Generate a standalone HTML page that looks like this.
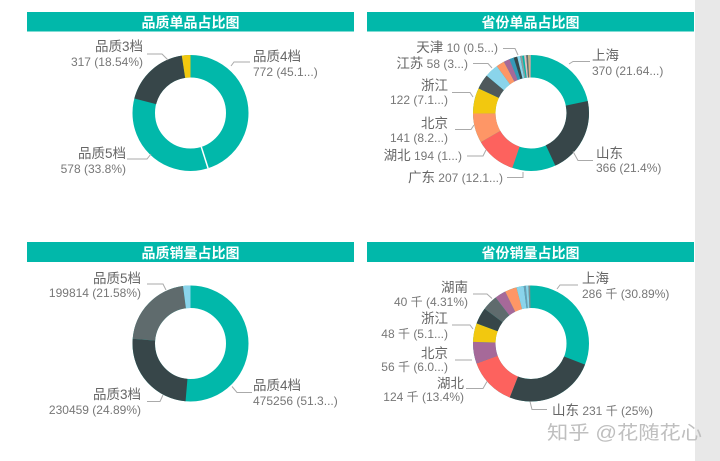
<!DOCTYPE html>
<html>
<head>
<meta charset="utf-8">
<style>
html,body{margin:0;padding:0;background:#fff;}
svg{display:block;}
text{font-family:"Liberation Sans","Noto Sans CJK SC",sans-serif;}
.h{fill:#fff;font-size:14px;font-weight:bold;text-anchor:middle;}
.n{fill:#666;font-size:13.5px;}
.v{fill:#777;font-size:12px;}
.e{text-anchor:end;}
.l{fill:none;stroke:#aaa;stroke-width:1;}
</style>
</head>
<body>
<svg width="720" height="461" viewBox="0 0 720 461" xmlns="http://www.w3.org/2000/svg">
<rect x="0" y="0" width="720" height="461" fill="#fff"/>
<rect x="695" y="0" width="25" height="461" fill="#e8e8e8"/>

<!-- headers -->
<rect x="27" y="12" width="327" height="19.5" fill="#01B8AA"/>
<rect x="367" y="12" width="327" height="19.5" fill="#01B8AA"/>
<rect x="27" y="242" width="327" height="20" fill="#01B8AA"/>
<rect x="367" y="242" width="327" height="20" fill="#01B8AA"/>
<text class="h" x="190.5" y="27.5">品质单品占比图</text>
<text class="h" x="530.5" y="27.5">省份单品占比图</text>
<text class="h" x="190.5" y="258">品质销量占比图</text>
<text class="h" x="530.5" y="258">省份销量占比图</text>

<!-- Chart 1 -->
<g transform="rotate(-90 190.5 113)" fill="none" stroke-width="22.5">
  <circle cx="190.5" cy="113" r="46.75" stroke="#01B8AA"/>
  <circle cx="190.5" cy="113" r="46.75" stroke="#374649" stroke-dasharray="54.46 400" stroke-dashoffset="-231.76"/>
  <circle cx="190.5" cy="113" r="46.75" stroke="#F2C80F" stroke-dasharray="7.6 400" stroke-dashoffset="-286.2"/>
</g>
<line x1="201.26" y1="146.83" x2="208.07" y2="168.27" stroke="#fff" stroke-width="1.5"/>
<polyline class="l" points="147,54 162,54 168,60"/>
<polyline class="l" points="231,66 234,62 250,62"/>
<polyline class="l" points="127,159 147,159 151,154"/>
<text class="n e" x="143" y="51">品质3档</text>
<text class="v e" x="143" y="66">317 (18.54%)</text>
<text class="n" x="253" y="61">品质4档</text>
<text class="v" x="253" y="76">772 (45.1...)</text>
<text class="n e" x="126" y="158">品质5档</text>
<text class="v e" x="126" y="173">578 (33.8%)</text>

<!-- Chart 2 -->
<g transform="rotate(-90 531 113)" fill="none" stroke-width="22.5">
  <circle cx="531" cy="113" r="46.75" stroke="#01B8AA"/>
  <circle cx="531" cy="113" r="46.75" stroke="#374649" stroke-dasharray="62.86 400" stroke-dashoffset="-63.57"/>
  <circle cx="531" cy="113" r="46.75" stroke="#FD625E" stroke-dasharray="33.34 400" stroke-dashoffset="-161.97"/>
  <circle cx="531" cy="113" r="46.75" stroke="#FE9666" stroke-dasharray="24.23 400" stroke-dashoffset="-195.31"/>
  <circle cx="531" cy="113" r="46.75" stroke="#F2C80F" stroke-dasharray="20.94 400" stroke-dashoffset="-219.54"/>
  <circle cx="531" cy="113" r="46.75" stroke="#4E585B" stroke-dasharray="12.13 400" stroke-dashoffset="-240.49"/>
  <circle cx="531" cy="113" r="46.75" stroke="#8AD4EB" stroke-dasharray="11.16 400" stroke-dashoffset="-252.62"/>
  <circle cx="531" cy="113" r="46.75" stroke="#FE9666" stroke-dasharray="6.76 400" stroke-dashoffset="-263.78"/>
  <circle cx="531" cy="113" r="46.75" stroke="#A66999" stroke-dasharray="4.99 400" stroke-dashoffset="-270.53"/>
  <circle cx="531" cy="113" r="46.75" stroke="#3599B8" stroke-dasharray="3.52 400" stroke-dashoffset="-275.53"/>
  <circle cx="531" cy="113" r="46.75" stroke="#374649" stroke-dasharray="2.94 400" stroke-dashoffset="-279.05"/>
  <circle cx="531" cy="113" r="46.75" stroke="#8AD4EB" stroke-dasharray="2.35 400" stroke-dashoffset="-281.99"/>
  <circle cx="531" cy="113" r="46.75" stroke="#8C9A9C" stroke-dasharray="1.76 400" stroke-dashoffset="-284.34"/>
  <circle cx="531" cy="113" r="46.75" stroke="#DFBFBF" stroke-dasharray="1.76 400" stroke-dashoffset="-287.57"/>
  <circle cx="531" cy="113" r="46.75" stroke="#5F6B6D" stroke-dasharray="1.47 400" stroke-dashoffset="-289.33"/>
  <circle cx="531" cy="113" r="46.75" stroke="#D9B382" stroke-dasharray="1.47 400" stroke-dashoffset="-290.80"/>
  <circle cx="531" cy="113" r="46.75" stroke="#9AAAAA" stroke-dasharray="1.47 400" stroke-dashoffset="-292.27"/>
</g>
<polyline class="l" points="503,48.5 515,48.5 518,55"/>
<polyline class="l" points="473,63.5 488,63.5 492,68"/>
<polyline class="l" points="452,92.5 470,92.5 473,97"/>
<polyline class="l" points="455,129.5 471,129.5 474,125"/>
<polyline class="l" points="467,156 483,156 486,150"/>
<polyline class="l" points="507,177.5 523,177.5 523,172"/>
<polyline class="l" points="569,64 573,61.5 590,61.5"/>
<polyline class="l" points="573,151.5 578,160.5 593,160.5"/>
<text class="e" x="498" y="52"><tspan class="n">天津</tspan><tspan class="v"> 10 (0.5...)</tspan></text>
<text class="e" x="468" y="68"><tspan class="n">江苏</tspan><tspan class="v"> 58 (3...)</tspan></text>
<text class="n e" x="448" y="90">浙江</text>
<text class="v e" x="448" y="104">122 (7.1...)</text>
<text class="n e" x="448" y="128">北京</text>
<text class="v e" x="448" y="142">141 (8.2...)</text>
<text class="e" x="462" y="160"><tspan class="n">湖北</tspan><tspan class="v"> 194 (1...)</tspan></text>
<text class="e" x="503" y="182"><tspan class="n">广东</tspan><tspan class="v"> 207 (12.1...)</tspan></text>
<text class="n" x="592" y="60">上海</text>
<text class="v" x="592" y="75">370 (21.64...)</text>
<text class="n" x="596" y="158">山东</text>
<text class="v" x="596" y="172">366 (21.4%)</text>

<!-- Chart 3 -->
<g transform="rotate(-90 190.5 343.5)" fill="none" stroke-width="22.5">
  <circle cx="190.5" cy="343.5" r="46.75" stroke="#01B8AA"/>
  <circle cx="190.5" cy="343.5" r="46.75" stroke="#374649" stroke-dasharray="73.11 400" stroke-dashoffset="-150.69"/>
  <circle cx="190.5" cy="343.5" r="46.75" stroke="#5F6B6D" stroke-dasharray="63.39 400" stroke-dashoffset="-223.80"/>
  <circle cx="190.5" cy="343.5" r="46.75" stroke="#8AD4EB" stroke-dasharray="6.6 400" stroke-dashoffset="-287.19"/>
</g>
<polyline class="l" points="147,284 163,284 166,290"/>
<polyline class="l" points="232,386.5 237,392.5 252,392.5"/>
<polyline class="l" points="147,401.5 160,401.5 163,395"/>
<text class="n e" x="141" y="283">品质5档</text>
<text class="v e" x="141" y="297">199814 (21.58%)</text>
<text class="n" x="253" y="390">品质4档</text>
<text class="v" x="253" y="405">475256 (51.3...)</text>
<text class="n e" x="141" y="399">品质3档</text>
<text class="v e" x="141" y="414">230459 (24.89%)</text>

<!-- Chart 4 -->
<g transform="rotate(-90 531 343.5)" fill="none" stroke-width="22.5">
  <circle cx="531" cy="343.5" r="46.75" stroke="#01B8AA"/>
  <circle cx="531" cy="343.5" r="46.75" stroke="#374649" stroke-dasharray="73.44 400" stroke-dashoffset="-90.74"/>
  <circle cx="531" cy="343.5" r="46.75" stroke="#FD625E" stroke-dasharray="39.36 400" stroke-dashoffset="-164.17"/>
  <circle cx="531" cy="343.5" r="46.75" stroke="#A66999" stroke-dasharray="17.77 400" stroke-dashoffset="-203.53"/>
  <circle cx="531" cy="343.5" r="46.75" stroke="#F2C80F" stroke-dasharray="15.16 400" stroke-dashoffset="-221.30"/>
  <circle cx="531" cy="343.5" r="46.75" stroke="#374649" stroke-dasharray="13.51 400" stroke-dashoffset="-236.46"/>
  <circle cx="531" cy="343.5" r="46.75" stroke="#5F6B6D" stroke-dasharray="12.66 400" stroke-dashoffset="-249.97"/>
  <circle cx="531" cy="343.5" r="46.75" stroke="#A66999" stroke-dasharray="9.08 400" stroke-dashoffset="-262.63"/>
  <circle cx="531" cy="343.5" r="46.75" stroke="#FE9666" stroke-dasharray="9.69 400" stroke-dashoffset="-271.71"/>
  <circle cx="531" cy="343.5" r="46.75" stroke="#8AD4EB" stroke-dasharray="5.87 400" stroke-dashoffset="-281.40"/>
  <circle cx="531" cy="343.5" r="46.75" stroke="#6A9FB5" stroke-dasharray="1.76 400" stroke-dashoffset="-287.28"/>
  <circle cx="531" cy="343.5" r="46.75" stroke="#8AD4EB" stroke-dasharray="2.06 400" stroke-dashoffset="-289.04"/>
  <circle cx="531" cy="343.5" r="46.75" stroke="#7F8C8D" stroke-dasharray="1.47 400" stroke-dashoffset="-291.10"/>
</g>
<polyline class="l" points="557,289 560,285 578,285"/>
<polyline class="l" points="473,294 487,294 492,298.5"/>
<polyline class="l" points="452,325 470,325 473,329"/>
<polyline class="l" points="455,360 472,360"/>
<polyline class="l" points="466,388.5 483,388.5 487,381.5"/>
<polyline class="l" points="530,401.5 532,409.5 547,409.5"/>
<text class="n" x="582" y="283">上海</text>
<text class="v" x="582" y="298">286 千 (30.89%)</text>
<text class="n e" x="468" y="292">湖南</text>
<text class="v e" x="468" y="306">40 千 (4.31%)</text>
<text class="n e" x="448" y="323">浙江</text>
<text class="v e" x="448" y="338">48 千 (5.1...)</text>
<text class="n e" x="448" y="358">北京</text>
<text class="v e" x="448" y="371">56 千 (6.0...)</text>
<text class="n e" x="464" y="388">湖北</text>
<text class="v e" x="464" y="401">124 千 (13.4%)</text>
<text x="552" y="415"><tspan class="n">山东</tspan><tspan class="v"> 231 千 (25%)</tspan></text>

<!-- watermark -->
<text x="547" y="439" font-size="19" fill="#bfbfbf" textLength="155" lengthAdjust="spacingAndGlyphs">知乎 @花随花心</text>
</svg>
</body>
</html>
